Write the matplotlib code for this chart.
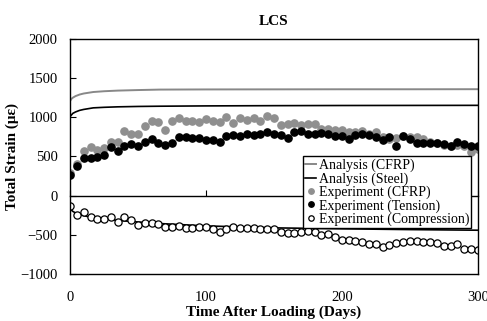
import matplotlib
matplotlib.use("Agg")
import matplotlib.pyplot as plt
import numpy as np

plt.rcParams["font.family"] = ["Liberation Serif", "DejaVu Serif"]

# analysis curves (days, strain)
ana_days = [0, 1, 2, 4, 7, 10, 17, 25, 35, 50, 66, 100, 150, 200, 250, 300]
ana_cfrp = [1210, 1235, 1250, 1270, 1290, 1303, 1322, 1332, 1340, 1347, 1353, 1355, 1356, 1357, 1357, 1358]
ana_steel = [1010, 1030, 1050, 1068, 1088, 1100, 1120, 1127, 1133, 1138, 1141, 1145, 1148, 1150, 1151, 1152]
ana_comp = [-170, -185, -200, -220, -240, -255, -280, -295, -315, -335, -355, -385, -410, -422, -432, -440]

# measurements every 5 days
exp_days = list(range(0, 301, 5))
exp_cfrp = [290, 400, 576, 627, 589, 614, 683, 683, 823, 793, 793, 883, 951, 934, 832, 951,
            994, 951, 951, 943, 981, 951, 943, 1000, 930, 990, 970, 985, 955, 1020, 985,
            896, 909, 926, 896, 917, 909, 853, 850, 832, 832, 810, 810, 823, 789, 810,
            747, 725, 740, 760, 747, 747, 725, 683, 666, 650, 640, 650, 640, 560, 590]
exp_tension = [270, 384, 478, 478, 499, 525, 619, 576, 640, 661, 640, 691, 717, 674, 649, 674,
               746, 746, 738, 738, 713, 704, 683, 755, 768, 755, 789, 768, 781, 810, 789,
               768, 738, 810, 823, 781, 789, 797, 789, 760, 755, 725, 768, 789, 768, 747,
               713, 747, 640, 755, 725, 670, 670, 670, 670, 661, 640, 683, 661, 640, 640]
exp_comp = [-128, -243, -213, -269, -299, -299, -269, -329, -269, -312, -371, -342, -342, -355,
            -405, -405, -384, -418, -418, -400, -395, -420, -460, -420, -405, -410, -418,
            -418, -425, -425, -430, -460, -470, -470, -460, -450, -460, -500, -490, -530,
            -560, -560, -576, -590, -618, -620, -653, -630, -600, -590, -580, -580, -590,
            -590, -600, -640, -640, -620, -680, -680, -690]

fig, ax = plt.subplots(figsize=(4.87, 3.21), dpi=100)
fig.subplots_adjust(left=0.144, right=0.981, top=0.879, bottom=0.146)

ax.plot(ana_days, ana_cfrp, color="#888888", lw=1.4, label="Analysis (CFRP)")
ax.plot(ana_days, ana_steel, color="black", lw=1.2, label="Analysis (Steel)")
ax.plot(ana_days, ana_comp, color="black", lw=1.2)

ms = 5.2
ax.plot(exp_days, exp_cfrp, "o", color="#8f8f8f", ms=ms, mec="#8f8f8f", label="Experiment (CFRP)")
ax.plot(exp_days, exp_tension, "o", color="black", ms=ms, label="Experiment (Tension)")
ax.plot(exp_days, exp_comp, "o", mfc="white", mec="black", mew=0.9, ms=ms,
        label="Experiment (Compression)")

ax.set_xlim(0, 300)
ax.set_ylim(-1000, 2000)
ax.set_xticks([0, 100, 200, 300])
ax.set_yticks(np.arange(-1000, 2001, 500))
ax.tick_params(axis="y", direction="in", length=4, labelsize=10.5, pad=9)
ax.tick_params(axis="x", length=0, labelsize=10.5, pad=12)

# zero line carrying the x tick marks
zero = ax.secondary_xaxis(1 / 3)
zero.set_xticks([0, 100, 200, 300])
zero.tick_params(direction="in", length=4, labelbottom=False, labeltop=False)
zero.spines["bottom"].set_linewidth(1.0)

for s in ax.spines.values():
    s.set_linewidth(1.0)

ax.set_title("LCS", fontsize=11, fontweight="bold", pad=10)
ax.set_xlabel("Time After Loading (Days)", fontsize=11, fontweight="bold", labelpad=1)
ax.set_ylabel("Total Strain (με)", fontsize=11, fontweight="bold", labelpad=1)

leg = ax.legend(loc="upper left", bbox_to_anchor=(0.571, 0.5), fontsize=10,
                handlelength=0.8, handletextpad=0.2, labelspacing=0.0,
                borderpad=0.15, borderaxespad=0, fancybox=False, framealpha=1,
                markerscale=0.75)
leg.get_frame().set_edgecolor("black")
leg.get_frame().set_linewidth(1.0)

fig.savefig("out.png", dpi=100)
